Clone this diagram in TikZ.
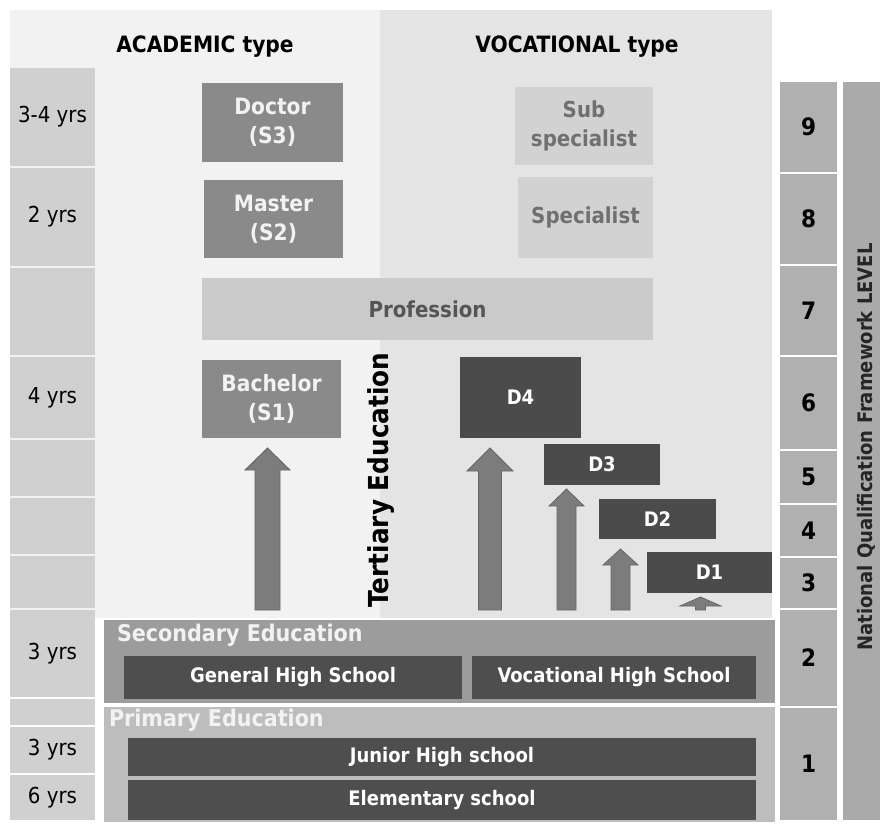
\documentclass[tikz,border=0pt]{standalone}
\usepackage{fontspec}
\setmainfont{DejaVuSansCondensed}[Extension=.ttf, BoldFont=DejaVuSansCondensed-Bold]

\definecolor{pagebg}{HTML}{FFFFFF}
\definecolor{acadbg}{HTML}{F2F2F2}
\definecolor{vocbg}{HTML}{E4E4E4}
\definecolor{yearcell}{HTML}{D0D0D0}
\definecolor{levelcell}{HTML}{B0B0B0}
\definecolor{nqfcol}{HTML}{AAAAAA}
\definecolor{degree}{HTML}{8A8A8A}
\definecolor{profbox}{HTML}{CACACA}
\definecolor{specbox}{HTML}{D2D2D2}
\definecolor{specText}{HTML}{707070}
\definecolor{profText}{HTML}{555555}
\definecolor{dipbox}{HTML}{4B4B4B}
\definecolor{arrowfill}{HTML}{7C7C7C}
\definecolor{arrowline}{HTML}{666666}
\definecolor{secband}{HTML}{9C9C9C}
\definecolor{primband}{HTML}{BDBDBD}
\definecolor{schoolbox}{HTML}{4E4E4E}
\definecolor{lighttext}{HTML}{F2F2F2}

% box from corner (x1,y1) to corner (x2,y2), y measured downwards
\newcommand\bx[7]{\node[#6, minimum width={(#4-#2)*1pt}, minimum height={(#5-#3)*1pt}] (#1) at ({(#2+#4)/2},{(#3+#5)/2}) {#7};}
% block arrow: centre x, tip y, head base y, bottom y, head half width, shaft half width
\newcommand\blockup[6]{\filldraw[fill=arrowfill, draw=arrowline, line width=0.8pt] ({#1-#6},#4) -- ({#1-#6},#3) -- ({#1-#5},#3) -- (#1,#2) -- ({#1+#5},#3) -- ({#1+#6},#3) -- ({#1+#6},#4) -- cycle;}

\begin{document}
\begin{tikzpicture}[x=1pt, y=-1pt,
  every node/.style={inner sep=0pt, outer sep=0pt},
  yearbox/.style={fill=yearcell, font=\fontsize{22}{26}\selectfont},
  levelbox/.style={fill=levelcell, font=\fontsize{24}{28}\selectfont\bfseries},
  degreebox/.style={fill=degree, text=lighttext, align=center, font=\fontsize{22.5}{29}\selectfont\bfseries},
  specialbox/.style={fill=specbox, text=specText, align=center, font=\fontsize{22}{29}\selectfont\bfseries},
  dipl/.style={fill=dipbox, text=white, font=\fontsize{20}{24}\selectfont\bfseries},
  school/.style={fill=schoolbox, text=white, font=\fontsize{20}{24}\selectfont\bfseries},
  title/.style={font=\fontsize{22.5}{26}\selectfont\bfseries},
  bandlabel/.style={anchor=west, text=lighttext, font=\fontsize{23}{27}\selectfont\bfseries}
]
\useasboundingbox (0,0) rectangle (880,825);
\fill[pagebg] (0,0) rectangle (880,825);

% academic and vocational backgrounds
\fill[acadbg] (10,10) rectangle (380,618);
\fill[vocbg] (380,10) rectangle (772,618);

% column headings
\node[title] (acad) at (205,47) {ACADEMIC type};
\node[title] (voc) at (577,47) {VOCATIONAL type};

% duration column
\bx{y1}{10}{68}{95}{166}{yearbox}{3-4 yrs}
\bx{y2}{10}{168}{95}{266}{yearbox}{2 yrs}
\bx{y3}{10}{268}{95}{355}{yearbox}{}
\bx{y4}{10}{357}{95}{438}{yearbox}{4 yrs}
\bx{y5}{10}{440}{95}{496}{yearbox}{}
\bx{y6}{10}{498}{95}{554}{yearbox}{}
\bx{y7}{10}{556}{95}{608}{yearbox}{}
\bx{y8}{10}{610}{95}{697}{yearbox}{3 yrs}
\bx{y9}{10}{699}{95}{725}{yearbox}{}
\bx{y10}{10}{727}{95}{773}{yearbox}{3 yrs}
\bx{y11}{10}{775}{95}{820}{yearbox}{6 yrs}

% qualification level column
\bx{l9}{780}{82}{837}{172}{levelbox}{9}
\bx{l8}{780}{174}{837}{264}{levelbox}{8}
\bx{l7}{780}{266}{837}{355}{levelbox}{7}
\bx{l6}{780}{357}{837}{449}{levelbox}{6}
\bx{l5}{780}{451}{837}{503}{levelbox}{5}
\bx{l4}{780}{505}{837}{556}{levelbox}{4}
\bx{l3}{780}{558}{837}{608}{levelbox}{3}
\bx{l2}{780}{610}{837}{706}{levelbox}{2}
\bx{l1}{780}{708}{837}{820}{levelbox}{1}
\bx{nqf}{843}{82}{880}{820}{fill=nqfcol}{}
\node[rotate=90, font=\fontsize{20}{24}\selectfont\bfseries, text=black!85] (nqflabel) at (866,447) {National Qualification Framework LEVEL};

% academic degrees
\bx{doctor}{202}{83}{343}{162}{degreebox}{Doctor\\(S3)}
\bx{master}{204}{180}{343}{258}{degreebox}{Master\\(S2)}
\bx{bachelor}{202}{360}{341}{438}{degreebox}{Bachelor\\(S1)}
\bx{profession}{202}{278}{653}{340}{fill=profbox, text=profText, font=\fontsize{22}{26}\selectfont\bfseries}{Profession}

% vocational degrees
\bx{subspec}{515}{87}{653}{165}{specialbox}{Sub\\specialist}
\bx{spec}{518}{177}{653}{258}{specialbox}{Specialist}
\bx{d4}{460}{357}{581}{438}{dipl}{D4}
\bx{d3}{544}{444}{660}{485}{dipl}{D3}
\bx{d2}{599}{499}{716}{539}{dipl}{D2}
\bx{d1}{647}{552}{772}{593}{dipl}{D1}

% tertiary label
\node[rotate=90, font=\fontsize{27.5}{31}\selectfont\bfseries] (tertiary) at (381,480) {Tertiary Education};

% progression arrows
\blockup{267.5}{448}{470}{610}{22.5}{12.5}
\blockup{490}{448}{471}{610}{23}{11.5}
\blockup{566.5}{489}{506}{610}{17.5}{9.5}
\blockup{620.5}{549}{565}{610}{17.5}{9.5}
\blockup{700.5}{597}{606}{610}{20.5}{5}

% secondary education
\bx{secondary}{104}{620}{775}{703}{fill=secband}{}
\node[bandlabel] (seclabel) at (117,635) {Secondary Education};
\bx{general}{124}{656}{462}{699}{school}{General High School}
\bx{vochigh}{472}{656}{756}{699}{school}{Vocational High School}

% primary education
\bx{primary}{104}{707}{775}{822}{fill=primband}{}
\node[bandlabel] (primlabel) at (109,720) {Primary Education};
\bx{junior}{128}{738}{756}{776}{school}{Junior High school}
\bx{elementary}{128}{780}{756}{820}{school}{Elementary school}
\end{tikzpicture}
\end{document}
